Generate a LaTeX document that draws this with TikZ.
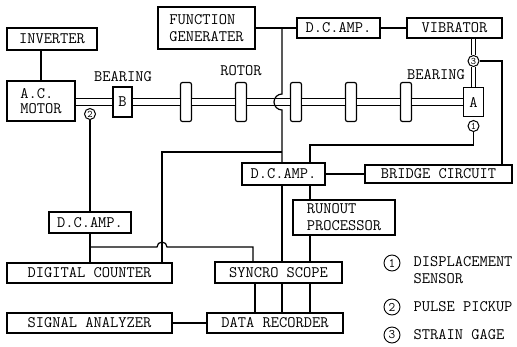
\documentclass[tikz,border=0pt]{standalone}
\usepackage{fontspec}
\usetikzlibrary{positioning}

\begin{document}
\begin{tikzpicture}[x=1pt, y=-1pt, line width=1.2pt,
    font=\ttfamily\fontsize{16}{17}\selectfont,
    box/.style 2 args={
        draw, fill=white,
        inner sep=0pt,
        minimum width=#1,
        minimum height=#2,
        align=left
    },
    disk/.style={draw, fill=white, rounded corners=2pt, minimum width=11pt, minimum height=39pt, inner sep=0pt},
    sensor/.style={circle, draw, fill=white, inner sep=0pt, minimum size=11pt, line width=1pt,
        font=\ttfamily\fontsize{10}{10}\selectfont},
    legend mark/.style={circle, draw, inner sep=0pt, minimum size=16pt, line width=0.9pt,
        font=\ttfamily\fontsize{13}{13}\selectfont},
    shaft/.style={double distance=6.5pt},
    rod/.style={double distance=3pt}
]
    \useasboundingbox (0,0) rectangle (517,346);

    % blocks of the rig
    \node[box={90pt}{22pt}] (inv) at (52,39) {INVERTER};
    \node[box={68pt}{40pt}, font=\ttfamily\fontsize{16}{15}\selectfont] (motor) at (41,101) {A.C.\\MOTOR};
    \node[box={97pt}{42pt}] (fg) at (206.5,28) {FUNCTION\\GENERATER};
    \node[box={83pt}{20pt}] (dcatop) at (338.5,28) {D.C.AMP.};
    \node[box={95pt}{20pt}] (vib) at (454.5,28) {VIBRATOR};

    % bearings and rotor disks on the shaft
    \node[box={19pt}{30pt}] (bB) at (122.5,102) {B};
    \node[box={20pt}{29pt}] (bA) at (473.5,102) {A};
    \foreach \i/\x in {1/186,2/241,3/296,4/351,5/406}
        \node[disk] (d\i) at (\x,102) {};

    \node (lblB) at (123,77) {BEARING};
    \node (lblR) at (241,71) {ROTOR};
    \node (lblA) at (436,75) {BEARING};

    % measuring chain
    \node[box={83pt}{22pt}] (dcamid) at (283.5,174) {D.C.AMP.};
    \node[box={147pt}{18pt}] (bridge) at (438.5,174) {BRIDGE CIRCUIT};
    \node[box={82pt}{21pt}] (dcaleft) at (90,222.5) {D.C.AMP.};
    \node[box={102pt}{35pt}] (runout) at (344,217.5) {RUNOUT\\PROCESSOR};
    \node[box={165pt}{20pt}] (counter) at (89.5,273) {DIGITAL COUNTER};
    \node[box={127pt}{21pt}] (scope) at (278.5,272.5) {SYNCRO SCOPE};
    \node[box={165pt}{20pt}] (analyzer) at (89.5,323) {SIGNAL ANALYZER};
    \node[box={136pt}{20pt}] (recorder) at (275,323) {DATA RECORDER};

    % shaft
    \draw[shaft] (bB.west -| motor.east) -- (bB.west);
    \draw[shaft] (bB.east) -- (d1.west);
    \foreach \i/\j in {1/2,2/3,3/4,4/5}
        \draw[shaft] (d\i.east) -- (d\j.west);
    \draw[shaft] (d5.east) -- (bA.west);

    % sensors
    \node[sensor] (s2) at (90,114) {2};
    \node[sensor] (s3) at (473.5,61) {3};
    \node[sensor] (s1) at (473.5,126) {1};
    \draw[rod] (s3 |- vib.south) -- (s3.north);
    \draw[rod] (s3.south) -- (s3 |- bA.north);

    % junctions
    \coordinate (j1) at (282,28);
    \coordinate (j2) at (282,152);
    \coordinate (j2w) at (162,152);
    \coordinate (j3) at (90,247);
    \coordinate (j4) at (253,247);
    \coordinate (j5) at (310,145);
    \coordinate (j6) at (502,61);
    \coordinate (r1) at (255,300);
    \coordinate (r2) at (282,300);
    \coordinate (r3) at (310,300);

    % wiring
    \draw (motor.north) -- (motor.north |- inv.south);
    \draw (fg.east) -- (dcatop.west);
    \draw (dcatop.east) -- (vib.west);
    \draw (j1) -- ([yshift=8pt]j1 |- bB) arc[start angle=90, end angle=270, radius=8pt]
        -- (j2) -- (j2 |- dcamid.north);
    \draw (j2) -- (j2w) -- (j2w |- counter.north);
    \draw (s1.south) -- (s1 |- j5) -- (j5) -- (j5 |- dcamid.north);
    \draw (s3.east) -- (j6) -- (j6 |- bridge.north);
    \draw (dcamid.east) -- (bridge.west);
    \draw (s2.south) -- (s2 |- dcaleft.north);
    \draw (dcaleft.south) -- (dcaleft.south |- counter.north);
    \draw (j3) -- ([xshift=-5pt]j3 -| j2w) arc[start angle=180, end angle=0, radius=5pt]
        -- (j4) -- (j4 |- scope.north);
    \draw (j2 |- dcamid.south) -- (j2 |- scope.north);
    \draw (j5 |- dcamid.south) -- (j5 |- runout.north);
    \draw (j5 |- runout.south) -- (j5 |- scope.north);
    \foreach \r in {r1,r2,r3}
        \draw (\r |- scope.south) -- (\r |- recorder.north);
    \draw (analyzer.east) -- (recorder.west);

    % legend
    \node[legend mark] (m1) at (392,263) {1};
    \node[legend mark] (m2) at (392,307) {2};
    \node[legend mark] (m3) at (392,335) {3};
    \node[anchor=north west, inner sep=0pt, align=left] (t1) at (413,256) {DISPLACEMENT\\SENSOR};
    \node[anchor=west, inner sep=0pt] (t2) at (413,307) {PULSE PICKUP};
    \node[anchor=west, inner sep=0pt] (t3) at (413,335) {STRAIN GAGE};
\end{tikzpicture}
\end{document}
